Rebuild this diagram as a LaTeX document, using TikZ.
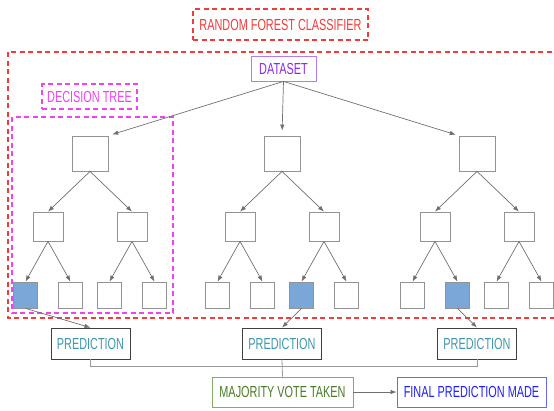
\documentclass[tikz,border=0pt]{standalone}
\usepackage{fontspec}
\setmainfont{Liberation Sans}[FakeStretch=0.68]
\usetikzlibrary{arrows.meta,positioning}

\definecolor{rfred}{HTML}{F03C3C}
\definecolor{dtpink}{HTML}{EE44EE}
\definecolor{dsviolet}{HTML}{8A2BE2}
\definecolor{dsborder}{HTML}{B07CF0}
\definecolor{predteal}{HTML}{3F98AA}
\definecolor{votegreen}{HTML}{4C7A28}
\definecolor{voteborder}{HTML}{86AA68}
\definecolor{finalblue}{HTML}{1F1FF5}
\definecolor{finalborder}{HTML}{6868F0}
\definecolor{leafblue}{HTML}{7BA7D8}
\definecolor{linegray}{HTML}{707070}

\tikzset{
  lbl/.style={font=\fontsize{16}{16}\selectfont, inner sep=0pt},
  tbox/.style={draw=gray!85, line width=0.8pt, fill=white, inner sep=0pt},
  leaf/.style={tbox, minimum width=24pt, minimum height=26pt},
  arr/.style={draw=linegray, line width=0.7pt, -{Latex[length=6pt,width=4.5pt]}},
  merge/.style={draw=gray!80, line width=0.8pt},
  predbox/.style={lbl, draw=black!75, line width=0.8pt, text=predteal,
    minimum width=79pt, minimum height=31pt},
  reddash/.style={draw=rfred, line width=1.2pt, dash pattern=on 5pt off 3.5pt},
  pinkdash/.style={draw=dtpink, line width=1.2pt, dash pattern=on 5pt off 3.5pt}
}

\begin{document}
\begin{tikzpicture}[x=1pt,y=-1pt]
\useasboundingbox (0,0) rectangle (554,410);

% Forest frame and labels
\draw[reddash] (8,52) rectangle (562,318);
\node[lbl, reddash, text=rfred, minimum width=175pt, minimum height=31pt]
  (title) at (280.5,24.5) {RANDOM FOREST CLASSIFIER};
\draw[pinkdash] (12,117) rectangle (173,313);
\node[lbl, pinkdash, text=dtpink, minimum width=95pt, minimum height=25pt]
  (dtlabel) at (89.5,96.5) {DECISION TREE};
\node[lbl, draw=dsborder, line width=0.8pt, text=dsviolet,
  minimum width=65pt, minimum height=25pt] (data) at (283.5,68.5) {DATASET};

% Trees: root, two inner nodes, four leaves (\hit = picked leaf)
\foreach \t/\cx/\hit in {1/90/11, 2/282/21, 3/477/12} {
  \node[tbox, minimum width=36pt, minimum height=35pt] (root\t) at (\cx,153.5) {};
  \foreach \s/\dx in {1/-42, 2/42} {
    \node[tbox, minimum width=30pt, minimum height=29pt] (mid\t\s) at (\cx+\dx,226.5) {};
    \draw[arr] (root\t.south) -- (mid\t\s.north);
    \foreach \k/\ex in {1/-22.5, 2/22.5} {
      \ifnum\s\k=\hit\relax \def\lfc{leafblue}\else\def\lfc{white}\fi
      \node[leaf, fill=\lfc] (leaf\t\s\k) at (\cx+\dx+\ex,295) {};
      \draw[arr] (mid\t\s.south) -- (leaf\t\s\k.north);
    }
  }
}

% Dataset to each tree
\draw[arr, shorten >=4pt] (data.south) -- (root1.north east);
\draw[arr, shorten >=5pt] (data.south) -- (root2.north);
\draw[arr, shorten >=3pt] (data.south) -- (root3.north west);

% Predictions
\node[predbox] (pred1) at (90.5,343.5) {PREDICTION};
\node[predbox] (pred2) at (282,343.5) {PREDICTION};
\node[predbox] (pred3) at (477,343.5) {PREDICTION};
\draw[arr] (leaf111.south) -- (pred1.north);
\draw[arr] (leaf221.south) -- (pred2.north);
\draw[arr] (leaf312.south) -- (pred3.north);

% Voting
\node[lbl, draw=voteborder, line width=0.8pt, text=votegreen,
  minimum width=141pt, minimum height=30pt] (vote) at (282.5,392) {MAJORITY VOTE TAKEN};
\node[lbl, draw=finalborder, line width=0.8pt, text=finalblue,
  minimum width=149pt, minimum height=30pt] (final) at (471.5,392) {FINAL PREDICTION MADE};
\draw[merge] (pred1.south) -- ++(0,7) -| (pred3.south);
\draw[merge] (pred2.south) -- (vote.north);
\draw[arr] (vote.east) -- (final.west);

\end{tikzpicture}
\end{document}
